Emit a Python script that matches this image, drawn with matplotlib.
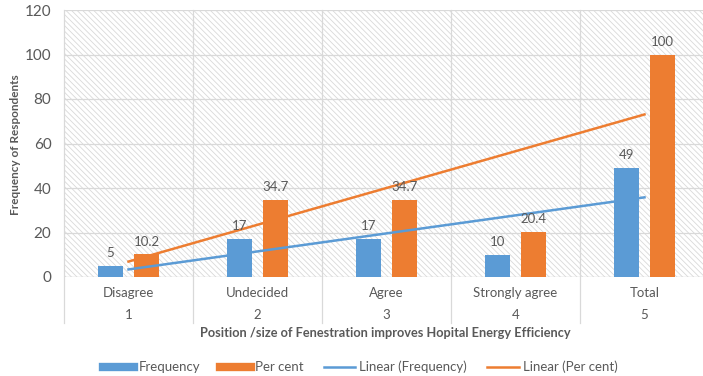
import matplotlib.pyplot as plt
import numpy as np
from matplotlib.lines import Line2D
from matplotlib.patches import Rectangle
import matplotlib.transforms as mtransforms

plt.rcParams["font.family"] = ["Lato", "DejaVu Sans"]
plt.rcParams["hatch.linewidth"] = 0.6
plt.rcParams["hatch.color"] = "#d9d9d9"

categories = ["Disagree", "Undecided", "Agree", "Strongly agree", "Total"]
positions = ["1", "2", "3", "4", "5"]
frequency = [5, 17, 17, 10, 49]
per_cent = [10.2, 34.7, 34.7, 20.4, 100]

BLUE = "#5b9bd5"
ORANGE = "#ed7d31"
TEXT = "#595959"
GRID = "#d9d9d9"

W, H = 703, 376
fig = plt.figure(figsize=(W / 100, H / 100), dpi=100)
ax = fig.add_axes([64 / W, 1 - 277 / H, 645 / W, 267 / H])

x = np.arange(1, len(categories) + 1)

# hatched plot-area background
ax.add_patch(Rectangle((0, 0), 1, 1, transform=ax.transAxes, facecolor="white",
                       hatch="\\\\\\\\\\\\", edgecolor=GRID, lw=0, zorder=0))

ax.set_xlim(0.5, 5.5)
ax.set_ylim(0, 120)
ax.set_yticks(range(0, 121, 20))
ax.yaxis.grid(True, color=GRID, lw=0.9, zorder=1)
ax.set_axisbelow(True)
for s in ax.spines.values():
    s.set_visible(False)
ax.tick_params(axis="y", length=0, labelsize=11, labelcolor=TEXT, pad=9)
ax.tick_params(axis="x", length=0, labelbottom=False)

off, bw = 0.14, 0.2
b1 = ax.bar(x - off, frequency, bw, color=BLUE, zorder=3)
b2 = ax.bar(x + off, per_cent, bw, color=ORANGE, zorder=3)
for bars, vals in ((b1, frequency), (b2, per_cent)):
    for r, v in zip(bars, vals):
        ax.text(r.get_x() + r.get_width() / 2, v + 3, f"{v:g}", ha="center",
                va="bottom", fontsize=9.5, color=TEXT, zorder=5)

# linear trendlines across the five categories
for vals, col in ((frequency, BLUE), (per_cent, ORANGE)):
    m, c = np.polyfit(x, vals, 1)
    ax.plot(x, m * x + c, color=col, lw=1.8, zorder=4)

# category separators and two-level axis labels
trans = mtransforms.blended_transform_factory(ax.transData, ax.transAxes)
px = 1 / 267
ax.axhline(0, color=GRID, lw=0.9, zorder=2)
for b in np.arange(0.5, 6.0, 1.0):
    ax.plot([b, b], [1, -46 * px], color=GRID, lw=0.9, transform=trans,
            clip_on=False, zorder=1)
for xi, cat, pos in zip(x, categories, positions):
    ax.text(xi, -16 * px, cat, transform=trans, ha="center", va="center",
            fontsize=9.5, color=TEXT)
    ax.text(xi, -38 * px, pos, transform=trans, ha="center", va="center",
            fontsize=9.5, color=TEXT)

fig.text(385 / W, 1 - 333 / H,
         "Position /size of Fenestration improves Hopital Energy Efficiency",
         ha="center", va="center", fontsize=9.2, fontweight="bold", color=TEXT)
fig.text(16 / W, 1 - 145 / H, "Frequency of Respondents", rotation=90,
         ha="center", va="center", fontsize=8.5, fontweight="bold", color=TEXT)

handles = [
    Line2D([], [], color=BLUE, lw=6),
    Line2D([], [], color=ORANGE, lw=6),
    Line2D([], [], color=BLUE, lw=1.8),
    Line2D([], [], color=ORANGE, lw=1.8),
]
labels = ["Frequency", "Per cent", "Linear (Frequency)", "Linear (Per cent)"]
fig.legend(handles, labels, loc="center", bbox_to_anchor=(360 / W, 1 - 367 / H),
           ncol=4, frameon=False, fontsize=9.5, handlelength=2.4,
           columnspacing=1.5, handletextpad=0.3, labelcolor=TEXT)

fig.savefig("out.png", dpi=100)
